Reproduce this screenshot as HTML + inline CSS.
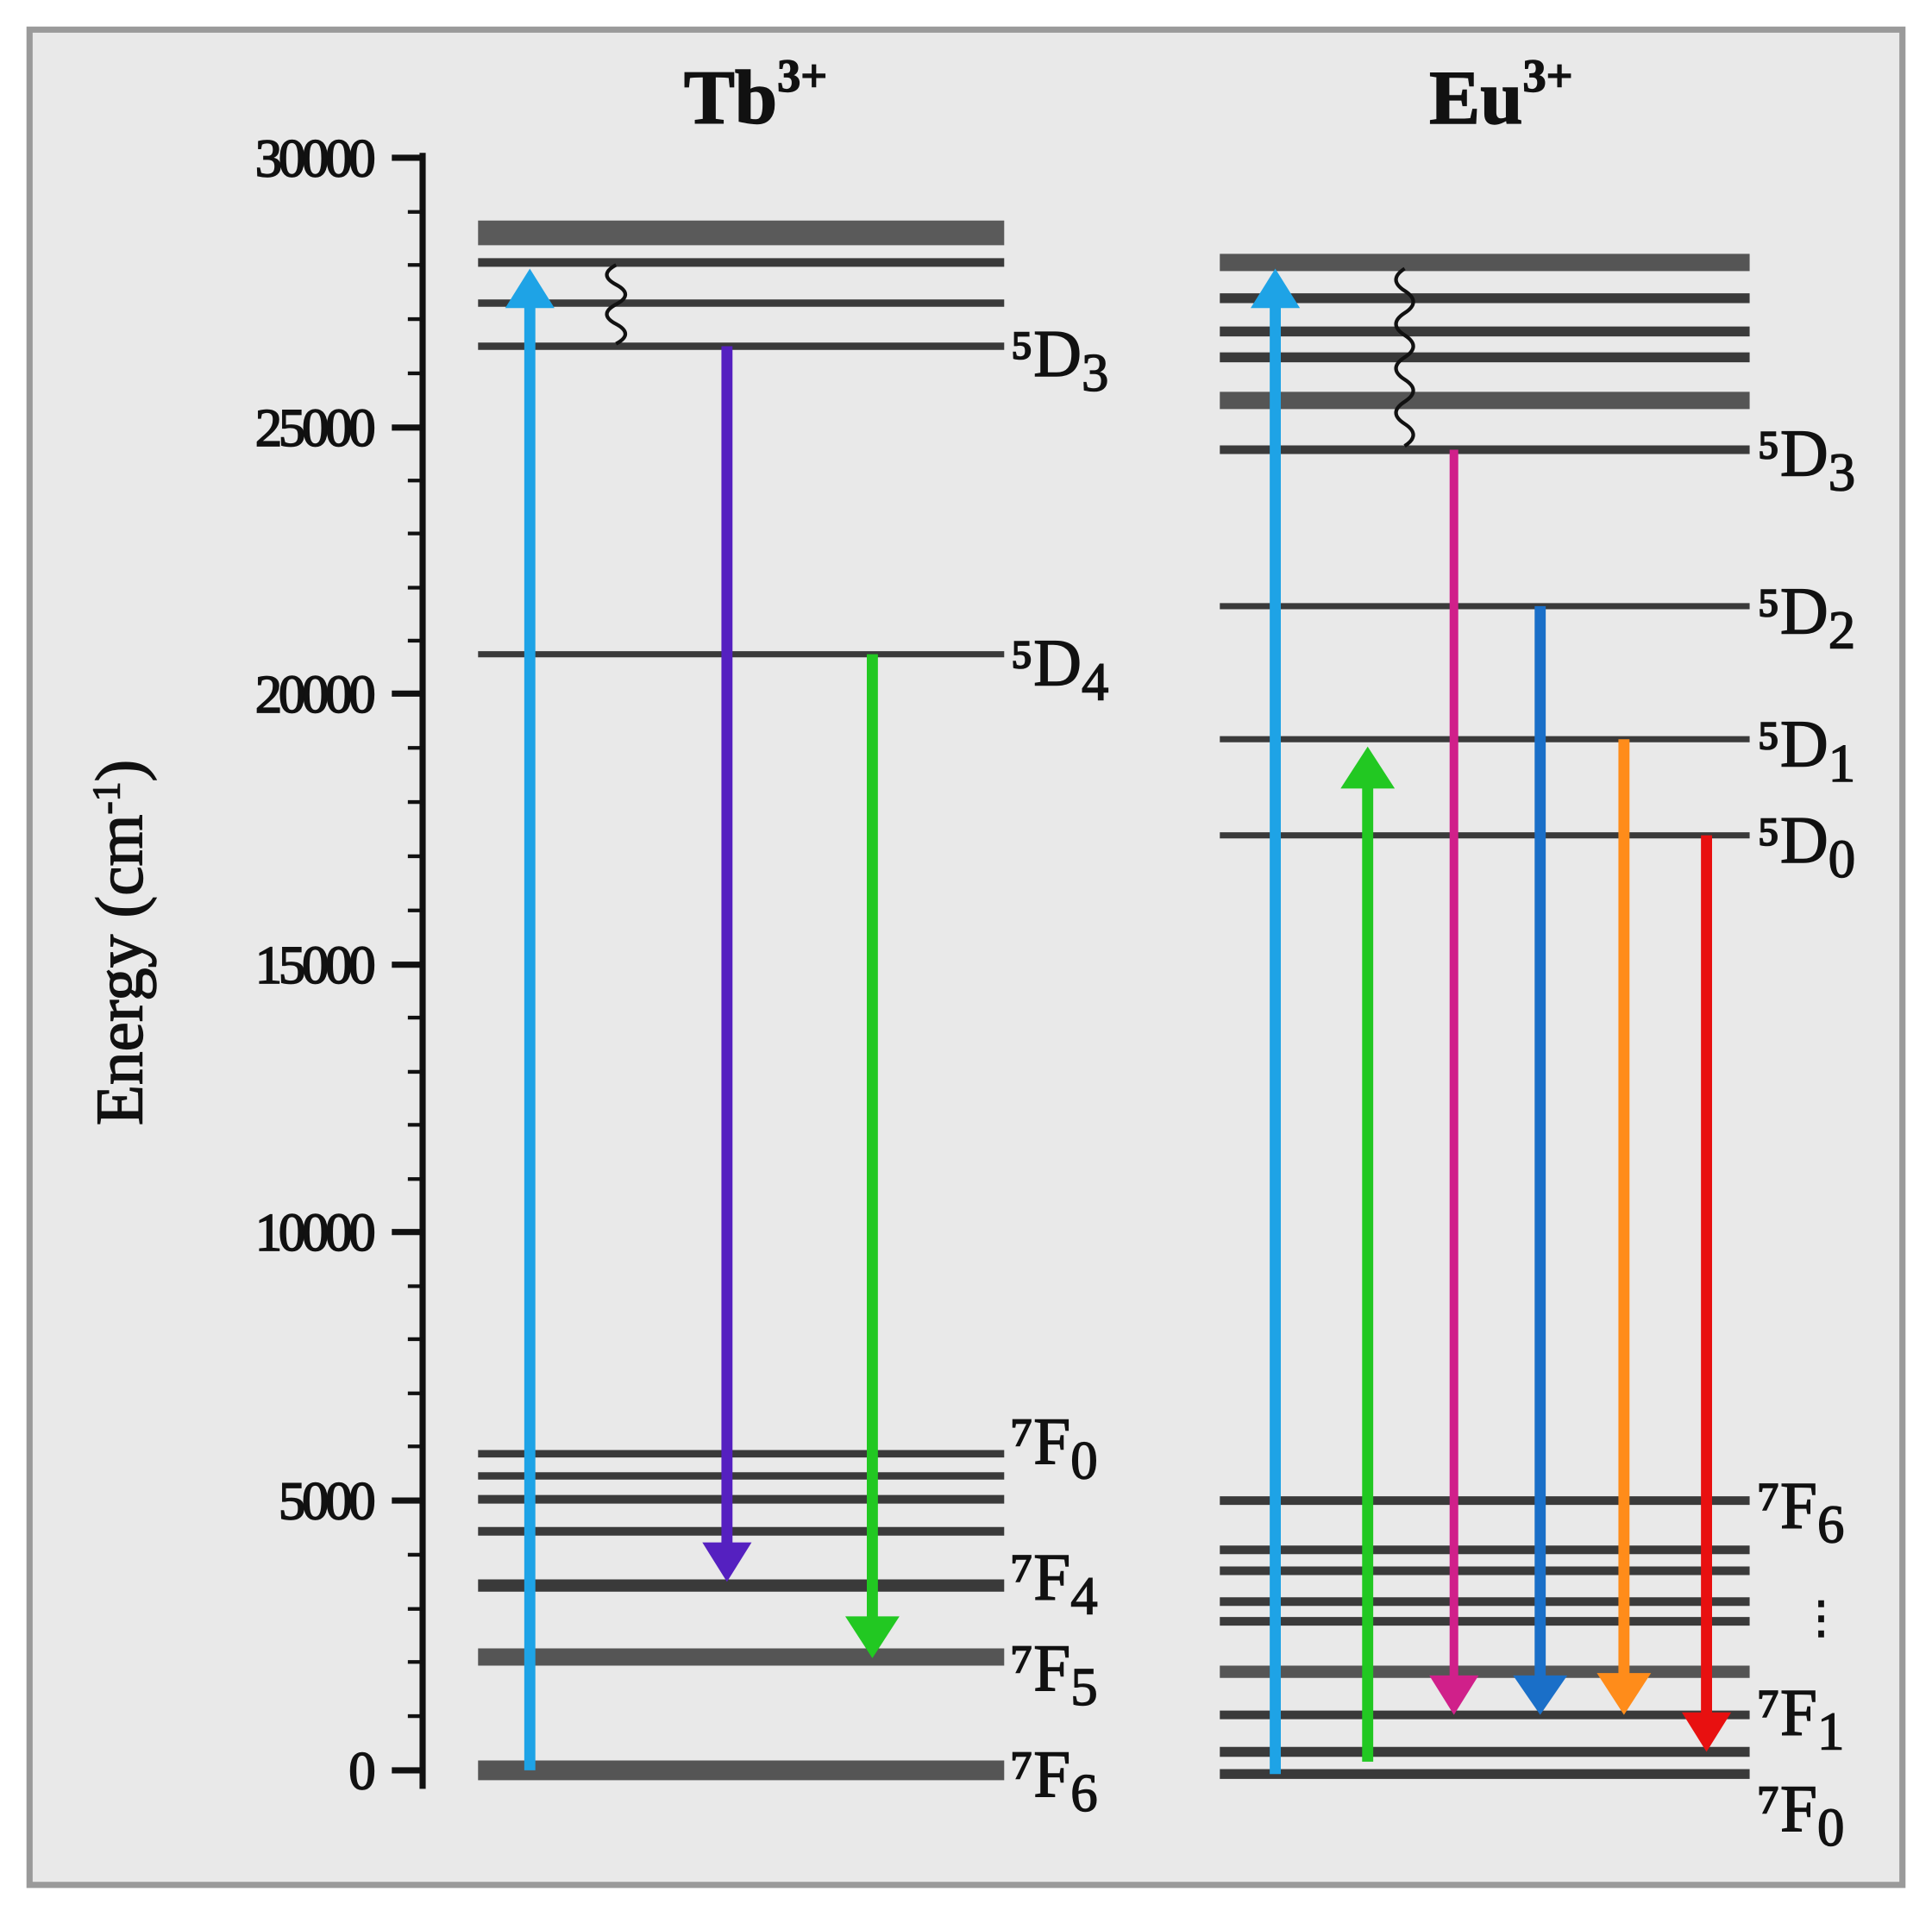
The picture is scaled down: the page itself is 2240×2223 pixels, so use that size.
<!DOCTYPE html>
<html><head><meta charset="utf-8"><style>
html,body{margin:0;padding:0;background:#fff;}
svg{display:block;}
text{font-family:"Liberation Serif",serif;fill:#111;}
</style></head><body>
<svg width="2240" height="2223" viewBox="0 0 1568 1556" xmlns="http://www.w3.org/2000/svg">
<rect x="0" y="0" width="1568" height="1556" fill="#fff"/>
<rect x="24" y="24" width="1520" height="1506" fill="#e9e9e9" stroke="#9a9a9a" stroke-width="5"/>

<!-- axis -->
<g stroke="#111" stroke-width="5">
<line x1="343" y1="124" x2="343" y2="1452"/>
<line x1="318" y1="128" x2="343" y2="128"/>
<line x1="318" y1="347" x2="343" y2="347"/>
<line x1="318" y1="563" x2="343" y2="563"/>
<line x1="318" y1="783" x2="343" y2="783"/>
<line x1="318" y1="1000" x2="343" y2="1000"/>
<line x1="318" y1="1218" x2="343" y2="1218"/>
<line x1="318" y1="1437" x2="343" y2="1437"/>
</g>
<g stroke="#111" stroke-width="3">
<line x1="331" y1="172" x2="343" y2="172"/><line x1="331" y1="215" x2="343" y2="215"/><line x1="331" y1="259" x2="343" y2="259"/><line x1="331" y1="303" x2="343" y2="303"/>
<line x1="331" y1="390" x2="343" y2="390"/><line x1="331" y1="433" x2="343" y2="433"/><line x1="331" y1="477" x2="343" y2="477"/><line x1="331" y1="520" x2="343" y2="520"/>
<line x1="331" y1="607" x2="343" y2="607"/><line x1="331" y1="651" x2="343" y2="651"/><line x1="331" y1="695" x2="343" y2="695"/><line x1="331" y1="739" x2="343" y2="739"/>
<line x1="331" y1="826" x2="343" y2="826"/><line x1="331" y1="870" x2="343" y2="870"/><line x1="331" y1="913" x2="343" y2="913"/><line x1="331" y1="957" x2="343" y2="957"/>
<line x1="331" y1="1044" x2="343" y2="1044"/><line x1="331" y1="1087" x2="343" y2="1087"/><line x1="331" y1="1131" x2="343" y2="1131"/><line x1="331" y1="1174" x2="343" y2="1174"/>
<line x1="331" y1="1262" x2="343" y2="1262"/><line x1="331" y1="1306" x2="343" y2="1306"/><line x1="331" y1="1349" x2="343" y2="1349"/><line x1="331" y1="1393" x2="343" y2="1393"/>
</g>
<g font-size="44" text-anchor="end" letter-spacing="-3" stroke="#111" stroke-width="1.2">
<text x="302" y="143">30000</text>
<text x="302" y="362">25000</text>
<text x="302" y="578">20000</text>
<text x="302" y="798">15000</text>
<text x="302" y="1015">10000</text>
<text x="302" y="1233">5000</text>
<text x="302" y="1452">0</text>
</g>
<text transform="translate(115,765) rotate(-90)" font-size="54" text-anchor="middle" stroke="#111" stroke-width="1">Energy (cm<tspan font-size="32" dy="-18">-1</tspan><tspan dy="18">)</tspan></text>

<!-- titles -->
<text x="555" y="100" font-size="62" font-weight="bold" stroke="#111" stroke-width="1">Tb<tspan font-size="38" dy="-26">3+</tspan></text>
<text x="1160" y="100" font-size="62" font-weight="bold" stroke="#111" stroke-width="1">Eu<tspan font-size="38" dy="-26">3+</tspan></text>

<!-- Tb levels -->
<g stroke="#3a3a3a">
<line x1="388" y1="189" x2="815" y2="189" stroke-width="20" stroke="#5a5a5a"/>
<line x1="388" y1="213" x2="815" y2="213" stroke-width="7"/>
<line x1="388" y1="246" x2="815" y2="246" stroke-width="6"/>
<line x1="388" y1="281" x2="815" y2="281" stroke-width="6"/>
<line x1="388" y1="531" x2="815" y2="531" stroke-width="5"/>
<line x1="388" y1="1180" x2="815" y2="1180" stroke-width="6"/>
<line x1="388" y1="1198" x2="815" y2="1198" stroke-width="6"/>
<line x1="388" y1="1217" x2="815" y2="1217" stroke-width="7"/>
<line x1="388" y1="1243" x2="815" y2="1243" stroke-width="7"/>
<line x1="388" y1="1287" x2="815" y2="1287" stroke-width="10"/>
<line x1="388" y1="1345" x2="815" y2="1345" stroke-width="14" stroke="#555"/>
<line x1="388" y1="1437" x2="815" y2="1437" stroke-width="16" stroke="#555"/>
</g>
<g font-size="54" stroke="#111" stroke-width="1">
<text x="820" y="305">⁵D<tspan font-size="44" dy="12">3</tspan></text>
<text x="820" y="556">⁵D<tspan font-size="44" dy="12">4</tspan></text>
<text x="820" y="1188">⁷F<tspan font-size="44" dy="12">0</tspan></text>
<text x="820" y="1298">⁷F<tspan font-size="44" dy="12">4</tspan></text>
<text x="820" y="1372">⁷F<tspan font-size="44" dy="12">5</tspan></text>
<text x="820" y="1458">⁷F<tspan font-size="44" dy="12">6</tspan></text>
</g>
<!-- Tb arrows -->
<line x1="430" y1="1437" x2="430" y2="240" stroke="#1ea3e6" stroke-width="9"/>
<polygon points="410,250 430,218 450,250" fill="#1ea3e6"/>
<line x1="590" y1="281" x2="590" y2="1265" stroke="#5520c0" stroke-width="9"/>
<polygon points="570,1252 590,1284 610,1252" fill="#5520c0"/>
<line x1="708" y1="531" x2="708" y2="1320" stroke="#22c822" stroke-width="9"/>
<polygon points="686,1312 708,1346 730,1312" fill="#22c822"/>
<path d="M500,215 q-15,8 0,16 q15,8 0,16 q-15,8 0,16 q15,8 0,16" fill="none" stroke="#111" stroke-width="3"/>

<!-- Eu levels -->
<g stroke="#3a3a3a">
<line x1="990" y1="213" x2="1420" y2="213" stroke-width="14" stroke="#555"/>
<line x1="990" y1="242" x2="1420" y2="242" stroke-width="8"/>
<line x1="990" y1="269" x2="1420" y2="269" stroke-width="8"/>
<line x1="990" y1="290" x2="1420" y2="290" stroke-width="8"/>
<line x1="990" y1="325" x2="1420" y2="325" stroke-width="14" stroke="#555"/>
<line x1="990" y1="365" x2="1420" y2="365" stroke-width="7"/>
<line x1="990" y1="492" x2="1420" y2="492" stroke-width="5"/>
<line x1="990" y1="600" x2="1420" y2="600" stroke-width="5"/>
<line x1="990" y1="678" x2="1420" y2="678" stroke-width="5"/>
<line x1="990" y1="1218" x2="1420" y2="1218" stroke-width="7"/>
<line x1="990" y1="1258" x2="1420" y2="1258" stroke-width="7"/>
<line x1="990" y1="1275" x2="1420" y2="1275" stroke-width="7"/>
<line x1="990" y1="1300" x2="1420" y2="1300" stroke-width="7"/>
<line x1="990" y1="1316" x2="1420" y2="1316" stroke-width="7"/>
<line x1="990" y1="1357" x2="1420" y2="1357" stroke-width="10" stroke="#555"/>
<line x1="990" y1="1392" x2="1420" y2="1392" stroke-width="7"/>
<line x1="990" y1="1422" x2="1420" y2="1422" stroke-width="8"/>
<line x1="990" y1="1440" x2="1420" y2="1440" stroke-width="8"/>
</g>
<g font-size="54" stroke="#111" stroke-width="1">
<text x="1426" y="386">⁵D<tspan font-size="44" dy="12">3</tspan></text>
<text x="1426" y="514">⁵D<tspan font-size="44" dy="12">2</tspan></text>
<text x="1426" y="622">⁵D<tspan font-size="44" dy="12">1</tspan></text>
<text x="1426" y="700">⁵D<tspan font-size="44" dy="12">0</tspan></text>
<text x="1426" y="1240">⁷F<tspan font-size="44" dy="12">6</tspan></text>
<text x="1460" y="1325" font-size="36">⋮</text>
<text x="1426" y="1408">⁷F<tspan font-size="44" dy="12">1</tspan></text>
<text x="1426" y="1486">⁷F<tspan font-size="44" dy="12">0</tspan></text>
</g>
<!-- Eu arrows -->
<line x1="1035" y1="1440" x2="1035" y2="240" stroke="#1ea3e6" stroke-width="9"/>
<polygon points="1015,250 1035,218 1055,250" fill="#1ea3e6"/>
<line x1="1110" y1="1430" x2="1110" y2="630" stroke="#22c822" stroke-width="9"/>
<polygon points="1088,640 1110,606 1132,640" fill="#22c822"/>
<line x1="1180" y1="365" x2="1180" y2="1370" stroke="#d0208a" stroke-width="7"/>
<polygon points="1160,1360 1180,1392 1200,1360" fill="#d0208a"/>
<line x1="1250" y1="492" x2="1250" y2="1370" stroke="#1a6fc8" stroke-width="9"/>
<polygon points="1228,1360 1250,1392 1272,1360" fill="#1a6fc8"/>
<line x1="1318" y1="600" x2="1318" y2="1370" stroke="#ff8c1a" stroke-width="9"/>
<polygon points="1296,1358 1318,1392 1340,1358" fill="#ff8c1a"/>
<line x1="1385" y1="678" x2="1385" y2="1400" stroke="#e81010" stroke-width="9"/>
<polygon points="1365,1390 1385,1422 1405,1390" fill="#e81010"/>
<path d="M1140,218 q-14,9 0,18 q14,9 0,18 q-14,9 0,18 q14,9 0,18 q-14,9 0,18 q14,9 0,18 q-14,9 0,18 q14,9 0,18" fill="none" stroke="#111" stroke-width="3"/>
</svg>
</body></html>
